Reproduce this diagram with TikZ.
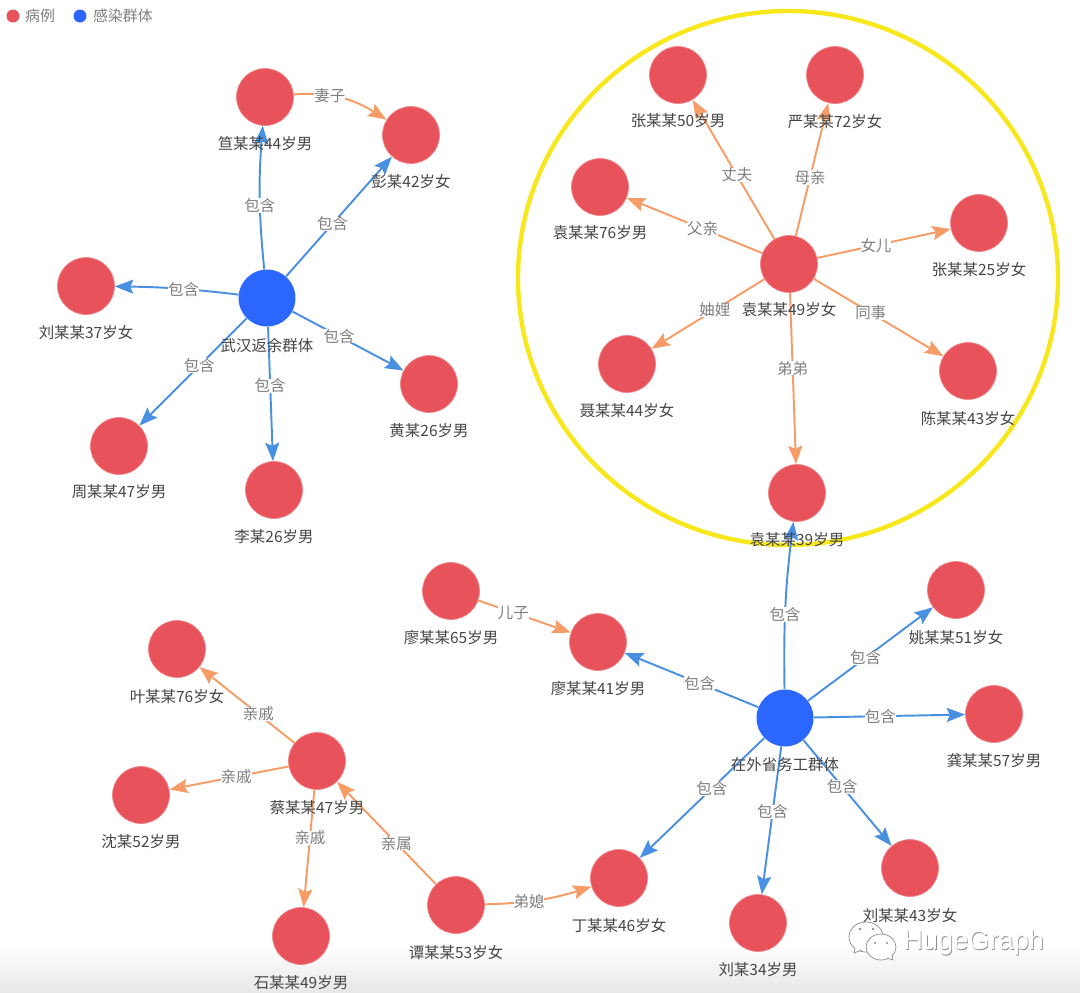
\documentclass[tikz,border=0pt]{standalone}
\usepackage{fontspec}
\setmainfont{Noto Sans CJK SC}
\newfontfamily\markfont{Liberation Sans}
\usetikzlibrary{arrows.meta}

\definecolor{casered}{HTML}{E8525A}
\definecolor{groupblue}{HTML}{2B66FF}
\definecolor{linkblue}{HTML}{4A90E2}
\definecolor{linkorange}{HTML}{F69C66}
\definecolor{ringyellow}{HTML}{F8E71C}
\definecolor{labelgray}{HTML}{7F7F7F}
\definecolor{namegray}{HTML}{454545}

\tikzset{
  caseitem/.style={circle,fill=casered,draw=casered!70!white,line width=0.4pt,minimum size=1.14cm,inner sep=0pt},
  groupitem/.style={circle,fill=groupblue,minimum size=1.14cm,inner sep=0pt},
  namelabel/.style={font=\fontsize{8.8}{10}\selectfont,text=namegray,inner sep=0pt,yshift=-0.6pt},
  legendlabel/.style={font=\fontsize{8.5}{10}\selectfont,text=labelgray,inner sep=0pt},
  linklabel/.style={font=\fontsize{8.8}{10}\selectfont,text=labelgray,fill=white,inner sep=0pt,pos=.44},
  bluelink/.style={draw=linkblue,line width=1.1pt,-{Stealth[length=10.5pt,width=8pt,inset=1.8pt]}},
  orangelink/.style={draw=linkorange,line width=1.1pt,-{Stealth[length=10.5pt,width=8pt,inset=1.8pt]}}
}

\begin{document}
\begin{tikzpicture}[x=0.02cm,y=-0.02cm]
  \useasboundingbox (0,0) rectangle (1080,992);
  \shade[top color=white,bottom color=black!9] (0,945) rectangle (1080,992);

  % legend
  \draw (13,16) node[circle,fill=casered,minimum size=0.26cm,inner sep=0pt] (legendcase) {};
  \draw (40,16) node[legendlabel] (legendcasetext) {病例};
  \draw (80,16) node[circle,fill=groupblue,minimum size=0.26cm,inner sep=0pt] (legendgroup) {};
  \draw (123,16) node[legendlabel] (legendgrouptext) {感染群体};

  \draw[ringyellow,line width=2.5pt] (788,278) ellipse (270 and 267);

  % first group
  \draw (267,298) node[groupitem] (wuhan) {};
  \draw (265,97) node[caseitem] (jian) {};
  \draw (411,135) node[caseitem] (peng) {};
  \draw (86,286) node[caseitem] (liua) {};
  \draw (119,446) node[caseitem] (zhoua) {};
  \draw (274,490) node[caseitem] (lia) {};
  \draw (429,384) node[caseitem] (huang) {};

  % family in the ring
  \draw (789,264) node[caseitem] (yuana) {};
  \draw (678,75) node[caseitem] (zhanga) {};
  \draw (835,75) node[caseitem] (yan) {};
  \draw (600,187) node[caseitem] (yuanb) {};
  \draw (979,223) node[caseitem] (zhangb) {};
  \draw (627,364) node[caseitem] (nie) {};
  \draw (968,371) node[caseitem] (chen) {};
  \draw (797,493) node[caseitem] (yuanc) {};

  % second group
  \draw (785,718) node[groupitem] (waisheng) {};
  \draw (451,591) node[caseitem] (liaoa) {};
  \draw (598,642) node[caseitem] (liaob) {};
  \draw (956,590) node[caseitem] (yao) {};
  \draw (994,714) node[caseitem] (gong) {};
  \draw (910,868) node[caseitem] (liub) {};
  \draw (758,923) node[caseitem] (liuc) {};
  \draw (619,878) node[caseitem] (ding) {};

  % relatives
  \draw (456,905) node[caseitem] (tan) {};
  \draw (317,761) node[caseitem] (cai) {};
  \draw (177,649) node[caseitem] (ye) {};
  \draw (141,795) node[caseitem] (shen) {};
  \draw (301,936) node[caseitem] (shi) {};

  \draw[bluelink] (wuhan) to[bend left=5] node[linklabel] {包含} (jian);
  \draw[bluelink] (wuhan) -- node[linklabel] {包含} (peng);
  \draw[bluelink] (wuhan) to[bend right=3] node[linklabel] {包含} (liua);
  \draw[bluelink] (wuhan) -- node[linklabel] {包含} (zhoua);
  \draw[bluelink] (wuhan) -- node[linklabel] {包含} (lia);
  \draw[bluelink] (wuhan) -- node[linklabel,pos=.42] {包含} (huang);
  \draw[orangelink] (jian) to[out=5,in=148] node[linklabel,pos=.36] {妻子} (peng);

  \draw[orangelink] (yuana) -- node[linklabel,pos=.46] {丈夫} (zhanga);
  \draw[orangelink] (yuana) -- node[linklabel] {母亲} (yan);
  \draw[orangelink] (yuana) -- node[linklabel] {父亲} (yuanb);
  \draw[orangelink] (yuana) -- node[linklabel] {女儿} (zhangb);
  \draw[orangelink] (yuana) -- node[linklabel] {妯娌} (nie);
  \draw[orangelink] (yuana) -- node[linklabel] {同事} (chen);
  \draw[orangelink] (yuana) -- node[linklabel] {弟弟} (yuanc);

  \draw[bluelink] (waisheng) to[bend left=4] node[linklabel] {包含} (yuanc);
  \draw[bluelink] (waisheng) -- node[linklabel] {包含} (liaob);
  \draw[bluelink] (waisheng) -- node[linklabel,pos=.46] {包含} (yao);
  \draw[bluelink] (waisheng) -- node[linklabel] {包含} (gong);
  \draw[bluelink] (waisheng) -- node[linklabel] {包含} (liub);
  \draw[bluelink] (waisheng) -- node[linklabel] {包含} (liuc);
  \draw[bluelink] (waisheng) -- node[linklabel,pos=.42] {包含} (ding);
  \draw[orangelink] (liaoa) -- node[linklabel,pos=.38] {儿子} (liaob);

  \draw[orangelink] (cai) -- node[linklabel,pos=.38] {亲戚} (ye);
  \draw[orangelink] (cai) -- node[linklabel] {亲戚} (shen);
  \draw[orangelink] (cai) -- node[linklabel,pos=.41] {亲戚} (shi);
  \draw[orangelink] (tan) -- node[linklabel,pos=.40] {亲属} (cai);
  \draw[orangelink] (tan) to[bend right=8] node[linklabel,pos=.40] {弟媳} (ding);

  % names go over the arrows
  \draw (wuhan) ++(0,46) node[namelabel] (wuhanname) {武汉返余群体};
  \draw (jian) ++(0,46) node[namelabel] (jianname) {笪某某44岁男};
  \draw (peng) ++(0,45) node[namelabel] (pengname) {彭某42岁女};
  \draw (liua) ++(0,45) node[namelabel] (lianame) {刘某某37岁女};
  \draw (zhoua) ++(0,45) node[namelabel] (zhouname) {周某某47岁男};
  \draw (lia) ++(0,46) node[namelabel] (liname) {李某26岁男};
  \draw (huang) ++(0,46) node[namelabel] (huangname) {黄某26岁男};

  \draw (yuana) ++(0,45) node[namelabel] (yuananame) {袁某某49岁女};
  \draw (zhanga) ++(0,45) node[namelabel] (zhanganame) {张某某50岁男};
  \draw (yan) ++(0,45) node[namelabel] (yanname) {严某某72岁女};
  \draw (yuanb) ++(0,45) node[namelabel] (yuanbname) {袁某某76岁男};
  \draw (zhangb) ++(0,46) node[namelabel] (zhangbname) {张某某25岁女};
  \draw (nie) ++(0,45) node[namelabel] (niename) {聂某某44岁女};
  \draw (chen) ++(0,46) node[namelabel] (chenname) {陈某某43岁女};
  \draw (yuanc) ++(0,46) node[namelabel] (yuancname) {袁某某39岁男};

  \draw (waisheng) ++(0,46) node[namelabel] (waishengname) {在外省务工群体};
  \draw (liaoa) ++(0,46) node[namelabel] (liaoaname) {廖某某65岁男};
  \draw (liaob) ++(0,46) node[namelabel] (liaobname) {廖某某41岁男};
  \draw (yao) ++(0,46) node[namelabel] (yaoname) {姚某某51岁女};
  \draw (gong) ++(0,46) node[namelabel] (gongname) {龚某某57岁男};
  \draw (liub) ++(0,46) node[namelabel] (liubname) {刘某某43岁女};
  \draw (liuc) ++(0,46) node[namelabel] (liucname) {刘某34岁男};
  \draw (ding) ++(0,46) node[namelabel] (dingname) {丁某某46岁女};

  \draw (tan) ++(0,46) node[namelabel] (tanname) {谭某某53岁女};
  \draw (cai) ++(0,46) node[namelabel] (cainame) {蔡某某47岁男};
  \draw (ye) ++(0,46) node[namelabel] (yename) {叶某某76岁女};
  \draw (shen) ++(0,46) node[namelabel] (shenname) {沈某52岁男};
  \draw (shi) ++(0,46) node[namelabel] (shiname) {石某某49岁男};

  % watermark
  \draw[black!45,fill=white,line width=0.4pt] (866,937) ellipse (17 and 15);
  \draw[black!45,fill=white,line width=0.4pt] (855,948) -- (854,953) -- (862,950);
  \draw[black!45,fill=white,line width=0.4pt] (881,947) ellipse (15 and 13);
  \draw[black!45,fill=white,line width=0.4pt] (887,958) -- (893,960) -- (892,955);
  \fill[black!45] (860,929) circle (1.3) (873,929) circle (1.3) (875,943) circle (1.2) (887,943) circle (1.2);
  \draw (974.5,943) node[text=black!45,inner sep=0pt,font=\markfont\fontsize{15.5}{18}\selectfont] (markshadow) {HugeGraph};
  \draw (973.7,942.2) node[text=white,inner sep=0pt,font=\markfont\fontsize{15.5}{18}\selectfont] (marktext) {HugeGraph};
\end{tikzpicture}
\end{document}
